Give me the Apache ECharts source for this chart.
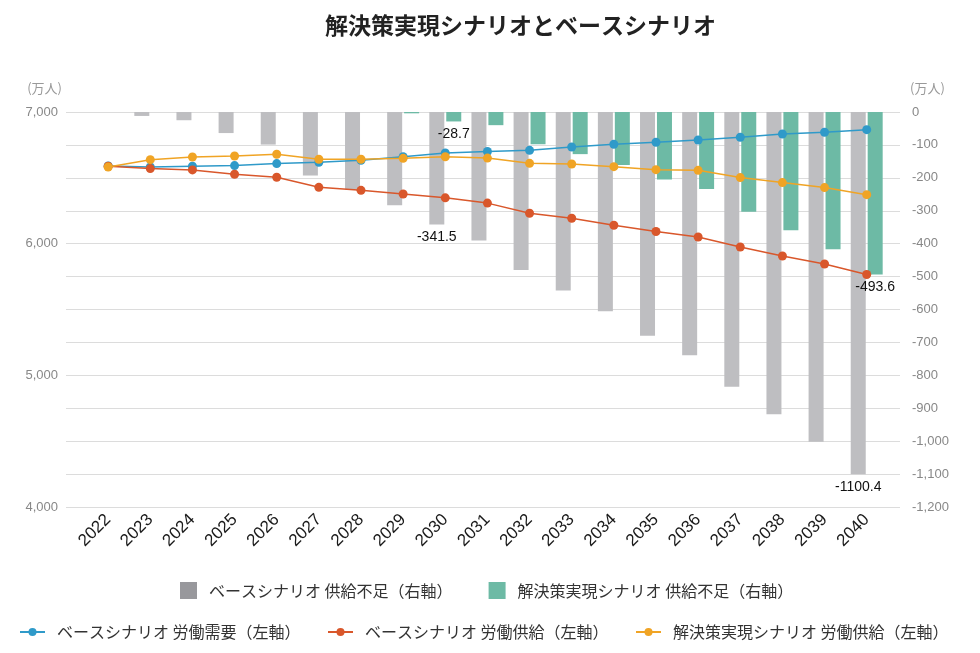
<!DOCTYPE html>
<html>
<head>
<meta charset="utf-8">
<script src="https://cdn.jsdelivr.net/npm/echarts@6/dist/echarts.min.js"></script>
<style>html,body{margin:0;padding:0;background:#fff;}#c{width:980px;height:653px;}</style>
</head>
<body>
<div id="c"></div>
<script>
const years = [2022,2023,2024,2025,2026,2027,2028,2029,2030,2031,2032,2033,2034,2035,2036,2037,2038,2039,2040];
const baseDemand = [6590,6582,6588,6593,6608,6618,6633,6660,6689,6700,6709,6734,6755,6770,6787,6808,6833,6846,6866];
const baseSupply = [6588,6570,6560,6527,6504,6428,6405,6377,6348,6308,6231,6193,6140,6092,6051,5975,5906,5846,5766];
const solSupply  = [6582,6638,6658,6666,6679,6641,6641,6648,6660,6650,6610,6605,6585,6562,6557,6502,6464,6426,6372];
const baseShortage = [null,-12,-25,-64,-99,-193,-236,-283,-341.5,-390,-480,-542,-605,-680,-739,-835,-918,-1002,-1100.4];
const solShortage  = [null,null,null,null,null,null,null,-4,-28.7,-40,-98,-128,-161,-205,-234,-303,-359,-417,-493.6];
const labeledIdx = [8, 18];
const leftTicks = [4000, 5000, 6000, 7000];

const names = {
  baseShort: 'ベースシナリオ 供給不足（右軸）',
  solShort: '解決策実現シナリオ 供給不足（右軸）',
  baseDem: 'ベースシナリオ 労働需要（左軸）',
  baseSup: 'ベースシナリオ 労働供給（左軸）',
  solSup: '解決策実現シナリオ 労働供給（左軸）'
};
const FONT = '"Noto Sans CJK JP", "Liberation Sans", sans-serif';
const labelStyle = {show: true, position: 'bottom', distance: 6, color: '#111', fontSize: 14, fontFamily: '"Liberation Sans", Arial, sans-serif'};

function barData(arr) {
  return arr.map((v, i) => ({value: [years[i], v], label: labeledIdx.includes(i) && v !== null ? labelStyle : {show: false}}));
}
function lineData(arr) { return arr.map((v, i) => [years[i], v]); }

const lineLegendText = {fontSize: 16, color: '#333', fontFamily: FONT, padding: [0, 0, 0, 7]};

const chart = echarts.init(document.getElementById('c'));
chart.setOption({
  backgroundColor: '#fff',
  animation: false,
  textStyle: {fontFamily: FONT},
  title: {
    text: '解決策実現シナリオとベースシナリオ',
    left: 320, top: 9,
    textStyle: {fontSize: 23, fontWeight: 'bold', color: '#222', fontFamily: FONT}
  },
  grid: {left: 66, right: 80, top: 112, bottom: 146},
  legend: [
    {
      top: 577, left: 175, itemWidth: 17, itemHeight: 17, itemGap: 36, icon: 'rect',
      textStyle: {fontSize: 16, color: '#333', fontFamily: FONT, padding: [0, 0, 0, 7]},
      data: [
        {name: names.baseShort, itemStyle: {color: '#98989c'}},
        {name: names.solShort, itemStyle: {color: '#6dbaa5'}}
      ]
    },
    {
      top: 619, left: 14, itemWidth: 25, itemHeight: 10,
      textStyle: lineLegendText,
      data: [names.baseDem]
    },
    {
      top: 619, left: 322, itemWidth: 25, itemHeight: 10,
      textStyle: lineLegendText,
      data: [names.baseSup]
    },
    {
      top: 619, left: 630, itemWidth: 25, itemHeight: 10,
      textStyle: lineLegendText,
      data: [names.solSup]
    }
  ],
  xAxis: {
    type: 'value', min: 2021, max: 2040.79, interval: 1,
    axisLine: {show: false}, axisTick: {show: false}, splitLine: {show: false},
    axisLabel: {
      rotate: 45, fontSize: 17, color: '#1a1a1a', margin: 10,
      fontFamily: '"Liberation Sans", Arial, sans-serif',
      formatter: v => (Number.isInteger(v) && v >= years[0]) ? String(v) : ''
    }
  },
  yAxis: [
    {
      type: 'value', min: 4000, max: 7000, interval: 250,
      name: '(万人)', nameLocation: 'end', nameGap: 17,
      nameTextStyle: {color: '#999', fontSize: 13, align: 'right', padding: [0, 4, 0, 0], fontFamily: FONT},
      axisLine: {show: false}, axisTick: {show: false},
      axisLabel: {
        color: '#888', fontSize: 13, margin: 8,
        fontFamily: '"Liberation Sans", Arial, sans-serif',
        formatter: v => leftTicks.includes(v) ? v.toLocaleString('en-US') : ''
      },
      splitLine: {show: true, lineStyle: {color: '#dcdcdc', width: 1}}
    },
    {
      type: 'value', min: -1200, max: 0, interval: 100,
      name: '(万人)', nameLocation: 'end', nameGap: 17,
      nameTextStyle: {color: '#999', fontSize: 13, align: 'left', padding: [0, 0, 0, 10], fontFamily: FONT},
      axisLine: {show: false}, axisTick: {show: false},
      axisLabel: {
        color: '#888', fontSize: 13, margin: 12,
        fontFamily: '"Liberation Sans", Arial, sans-serif',
        formatter: v => v.toLocaleString('en-US')
      },
      splitLine: {show: false}
    }
  ],
  series: [
    {
      name: names.baseShort, type: 'bar', yAxisIndex: 1,
      barWidth: 15, barGap: '13%',
      itemStyle: {color: '#bebec1'},
      data: barData(baseShortage), z: 2
    },
    {
      name: names.solShort, type: 'bar', yAxisIndex: 1,
      barWidth: 15, barGap: '13%',
      itemStyle: {color: '#6dbaa5'},
      data: barData(solShortage), z: 2
    },
    {
      name: names.baseDem, type: 'line', yAxisIndex: 0,
      symbol: 'circle', symbolSize: 9,
      itemStyle: {color: '#2f9ac9'}, lineStyle: {color: '#2f9ac9', width: 1.5},
      data: lineData(baseDemand), z: 5
    },
    {
      name: names.baseSup, type: 'line', yAxisIndex: 0,
      symbol: 'circle', symbolSize: 9,
      itemStyle: {color: '#d9572b'}, lineStyle: {color: '#d9572b', width: 1.5},
      data: lineData(baseSupply), z: 5
    },
    {
      name: names.solSup, type: 'line', yAxisIndex: 0,
      symbol: 'circle', symbolSize: 9,
      itemStyle: {color: '#f0a425'}, lineStyle: {color: '#f0a425', width: 1.5},
      data: lineData(solSupply), z: 6
    }
  ]
});
</script>
</body>
</html>
